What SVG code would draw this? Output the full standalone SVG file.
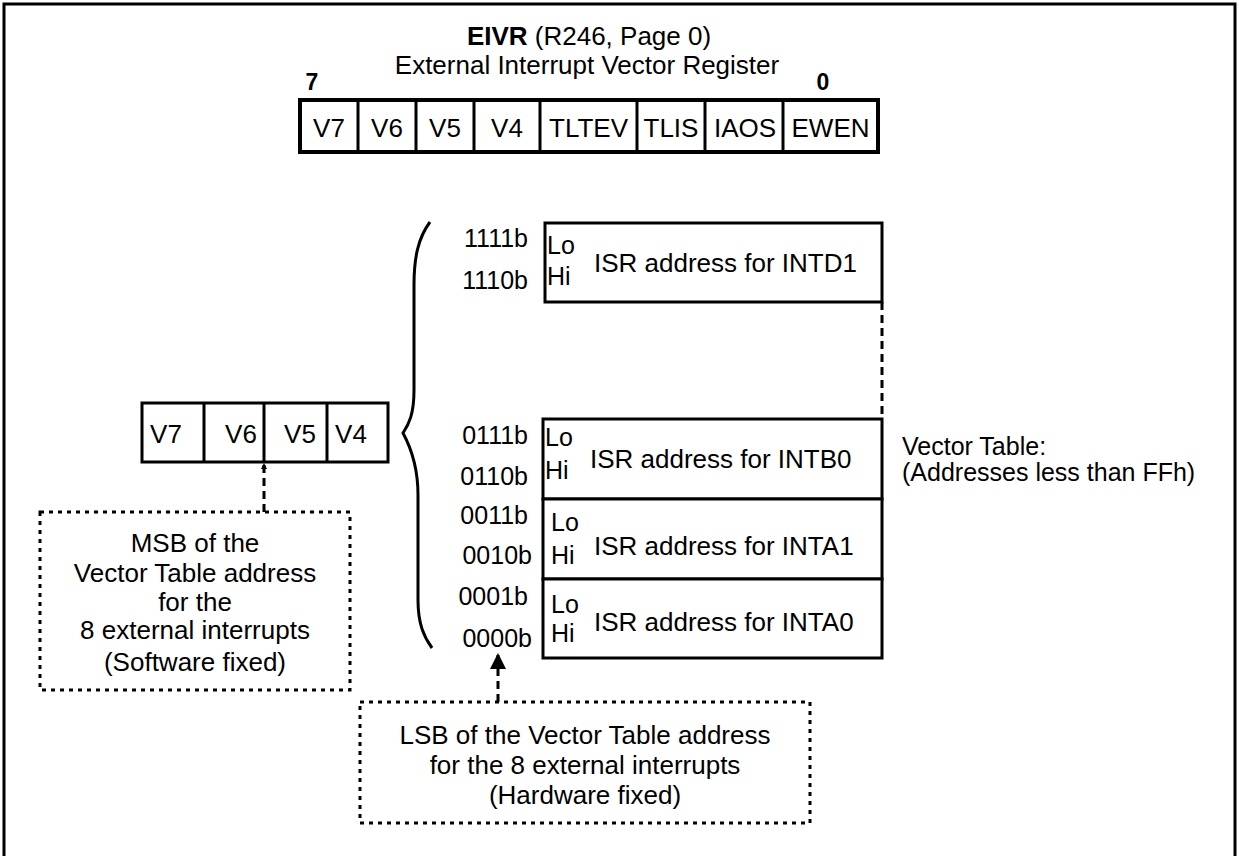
<svg xmlns="http://www.w3.org/2000/svg" width="1239" height="856" viewBox="0 0 1239 856">
<defs>
<style>
text{font-family:"Liberation Sans",Arial,sans-serif;fill:#000}
.t{font-size:26px}
.s{font-size:25px}
.m{text-anchor:middle}
.e{text-anchor:end}
.box{fill:#fff;stroke:#000;stroke-width:3}
.reg{fill:#fff;stroke:#000;stroke-width:4}
.ln{stroke:#000;stroke-width:3;fill:none}
.dot{fill:none;stroke:#000;stroke-width:3;stroke-dasharray:4 5}
.dash{fill:none;stroke:#000;stroke-width:3;stroke-dasharray:8 5}
</style>
<marker id="ah" viewBox="0 0 10 10" refX="10" refY="5" markerWidth="6" markerHeight="6" markerUnits="userSpaceOnUse" orient="auto"><path d="M0,0 L10,5 L0,10 z" fill="#000"/></marker>
<marker id="ahb" viewBox="0 0 10 10" refX="10" refY="5" markerWidth="16" markerHeight="18" markerUnits="userSpaceOnUse" orient="auto"><path d="M0,0 L10,5 L0,10 z" fill="#000"/></marker>
</defs>
<rect x="0" y="0" width="1239" height="856" fill="#fff"/>
<rect x="4" y="4" width="1231" height="880" fill="none" stroke="#000" stroke-width="3"/>

<g id="title">
<text class="t m" x="589" y="45"><tspan font-weight="bold">EIVR</tspan> (R246, Page 0)</text>
<text class="t m" x="587" y="74">External Interrupt Vector Register</text>
<text class="m" x="312" y="90" font-weight="bold" font-size="23">7</text>
<text class="m" x="823" y="90" font-weight="bold" font-size="23">0</text>
</g>

<g id="eivr-register">
<rect class="reg" x="300" y="100" width="578" height="52"/>
<path class="ln" stroke-width="4" d="M358 100V152M416 100V152M474 100V152M540 100V152M637 100V152M705 100V152M783 100V152"/>
<text class="t m" x="329" y="137">V7</text>
<text class="t m" x="387" y="137">V6</text>
<text class="t m" x="445" y="137">V5</text>
<text class="t m" x="507" y="137">V4</text>
<text class="t m" x="588.5" y="137">TLTEV</text>
<text class="t m" x="671" y="137">TLIS</text>
<text class="t m" x="745" y="137">IAOS</text>
<text class="t m" x="830.5" y="137">EWEN</text>
</g>

<g id="msb-register">
<rect class="box" x="142" y="403" width="246" height="59"/>
<path class="ln" d="M204 403V462M264 403V462M327 403V462"/>
<text class="t m" x="166" y="443">V7</text>
<text class="t m" x="241" y="443">V6</text>
<text class="t m" x="300" y="443">V5</text>
<text class="t m" x="351" y="443">V4</text>
</g>

<g id="brace">
<path class="ln" stroke-width="2.5" d="M430 222C418 238 414 258 414 285L414 390C414 414 409 424 403 433C410 446 418 466 418 495L418 600C418 624 424 637 432 648"/>
</g>

<g id="vt-intd1">
<rect class="box" x="545" y="223" width="337" height="79"/>
<text class="s e" x="528" y="247">1111b</text>
<text class="s e" x="528" y="289">1110b</text>
<text class="s" x="547" y="254">Lo</text>
<text class="s" x="547" y="285">Hi</text>
<text class="t" x="594" y="272">ISR address for INTD1</text>
</g>

<g id="vt-intb0">
<rect class="box" x="543" y="419" width="339" height="80"/>
<text class="s e" x="528" y="444">0111b</text>
<text class="s e" x="528" y="485">0110b</text>
<text class="s" x="545" y="446">Lo</text>
<text class="s" x="545" y="479">Hi</text>
<text class="t" x="590" y="468">ISR address for INTB0</text>
</g>

<g id="vt-inta1">
<rect class="box" x="543" y="499" width="339" height="80"/>
<text class="s e" x="528" y="524">0011b</text>
<text class="s e" x="532" y="564">0010b</text>
<text class="s" x="551" y="531">Lo</text>
<text class="s" x="551" y="564">Hi</text>
<text class="t" x="594" y="555">ISR address for INTA1</text>
</g>

<g id="vt-inta0">
<rect class="box" x="543" y="579" width="339" height="79"/>
<text class="s e" x="528" y="605">0001b</text>
<text class="s e" x="532" y="647">0000b</text>
<text class="s" x="551" y="613">Lo</text>
<text class="s" x="551" y="642">Hi</text>
<text class="t" x="594" y="631">ISR address for INTA0</text>
</g>

<g id="vt-label">
<text class="s" x="902" y="455" font-size="25.5">Vector Table:</text>
<text class="s" x="902" y="481" font-size="25.5">(Addresses less than FFh)</text>
</g>

<g id="msb-note">
<rect class="dot" x="40" y="512" width="310" height="178"/>
<text class="t m" x="195" y="552">MSB of the</text>
<text class="t m" x="195" y="582">Vector Table address</text>
<text class="t m" x="195" y="611">for the</text>
<text class="t m" x="195" y="639">8 external interrupts</text>
<text class="t m" x="195" y="671">(Software fixed)</text>
</g>

<g id="lsb-note">
<rect class="dot" x="360" y="702" width="450" height="121"/>
<text class="t m" x="585" y="744">LSB of the Vector Table address</text>
<text class="t m" x="585" y="774">for the 8 external interrupts</text>
<text class="t m" x="585" y="804">(Hardware fixed)</text>
</g>

<g id="connectors">
<path class="dash" d="M882 302V419"/>
<path class="dash" d="M264 512V463" marker-end="url(#ah)"/>
<path class="dash" d="M498 702V653" marker-end="url(#ahb)"/>
</g>
</svg>
